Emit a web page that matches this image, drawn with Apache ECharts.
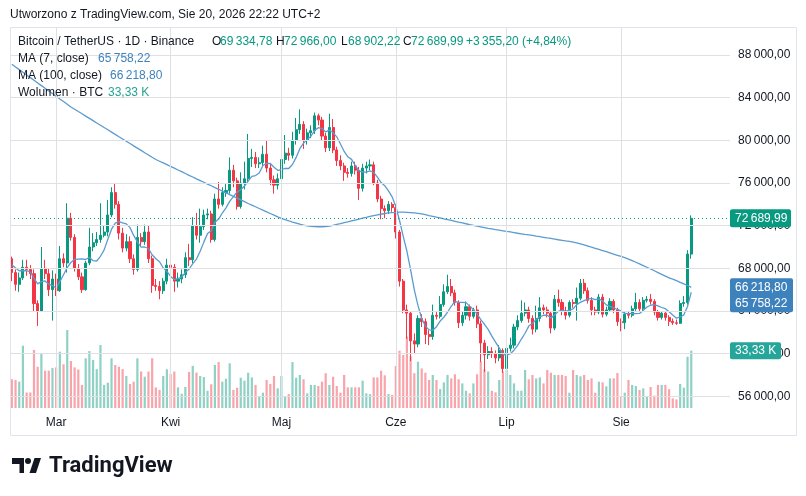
<!DOCTYPE html>
<html>
<head>
<meta charset="utf-8">
<script src="https://cdn.jsdelivr.net/npm/echarts@6/dist/echarts.min.js"></script>
<style>
  html, body { margin: 0; padding: 0; background: #fff; }
  #chart { width: 806px; height: 496px; }
</style>
</head>
<body>
<div id="chart"></div>
<script>
// BTC/USDT 1D, Binance, 17 Feb - 20 Aug 2026
const monthNames = ['Sty', 'Lut', 'Mar', 'Kwi', 'Maj', 'Cze', 'Lip', 'Sie', 'Wrz', 'Paź', 'Lis', 'Gru'];
const futureDays = 10; // empty space right of the last candle

const opens = [
  68900, 67600, 66500, 67100, 68100, 67900, 67500, 64700, 64000, 68000,
  67500, 66000, 67000, 65900, 68900, 68500, 72700, 70900, 68000, 67200,
  66000, 68500, 70000, 70400, 70700, 71100, 71400, 73000, 75100, 74000,
  71300, 69900, 70500, 68900, 67900, 70900, 70500, 71400, 68900, 66400,
  66300, 65900, 66800, 68300, 68100, 66800, 67000, 67400, 69000, 68800,
  72000, 71100, 71900, 73000, 73100, 70700, 74500, 74000, 75100, 75300,
  77200, 76200, 73800, 76000, 76400, 78300, 78400, 77800, 77900, 78700,
  77400, 76300, 75800, 76400, 78200, 78800, 78600, 80000, 81000, 81500,
  80000, 80700, 80900, 82300, 81900, 80400, 79300, 81200, 79100, 78100,
  77600, 77000, 76900, 77600, 77200, 75500, 77400, 77600, 77700, 76000,
  74500, 73600, 73400, 74000, 73700, 71400, 66800, 64100, 63800, 61200,
  60900, 63300, 63000, 61800, 61600, 63600, 63500, 64600, 65800, 66300,
  65700, 64800, 62900, 63600, 64400, 63500, 64100, 62800, 61000, 59900,
  60200, 60000, 59600, 60300, 58600, 60500, 60800, 62500, 63100, 63800,
  64100, 63300, 62300, 63300, 64300, 64100, 63800, 62400, 65100, 64800,
  64000, 63600, 64800, 64700, 65200, 66600, 65900, 65000, 64100, 63900,
  65300, 63700, 64100, 64900, 64100, 63000, 62900, 63700, 63600, 64200,
  64800, 64200, 65000, 65100, 64900, 63900, 63400, 63800, 63400, 63030,
  62900, 62850, 64702.73, 64800, 69334.78
];
const closes = [
  67600, 66500, 67100, 68100, 67900, 67500, 64700, 64000, 68000, 67500,
  66000, 67000, 65900, 68900, 68500, 72700, 70900, 68000, 67200, 66000,
  68500, 70000, 70400, 70700, 71100, 71400, 73000, 75100, 74000, 71300,
  69900, 70500, 68900, 67900, 70900, 70500, 71400, 68900, 66400, 66300,
  65900, 66800, 68300, 68100, 66800, 67000, 67400, 69000, 68800, 72000,
  71100, 71900, 73000, 73100, 70700, 74500, 74000, 75100, 75300, 77200,
  76200, 73800, 76000, 76400, 78300, 78400, 77800, 77900, 78700, 77400,
  76300, 75800, 76400, 78200, 78800, 78600, 80000, 81000, 81500, 80000,
  80700, 80900, 82300, 81900, 80400, 79300, 81200, 79100, 78100, 77600,
  77000, 76900, 77600, 77200, 75500, 77400, 77600, 77700, 76000, 74500,
  73600, 73400, 74000, 73700, 71400, 66800, 64100, 63800, 61200, 60900,
  63300, 63000, 61800, 61600, 63600, 63500, 64600, 65800, 66300, 65700,
  64800, 62900, 63600, 64400, 63500, 64100, 62800, 61000, 59900, 60200,
  60000, 59600, 60300, 58600, 60500, 60800, 62500, 63100, 63800, 64100,
  63300, 62300, 63300, 64300, 64100, 63800, 62400, 65100, 64800, 64000,
  63600, 64800, 64700, 65200, 66600, 65900, 65000, 64100, 63900, 65300,
  63700, 64100, 64900, 64100, 63000, 62900, 63700, 63600, 64200, 64800,
  64200, 65000, 65100, 64900, 63900, 63400, 63800, 63400, 63030, 62900,
  62850, 64702.73, 64800, 69334.79, 72689.99
];
const lows = [
  66800, 65900, 65800, 66900, 67300, 67000, 64000, 62600, 64000, 67000,
  65400, 63100, 65400, 65800, 68100, 67600, 70600, 67700, 66900, 65700,
  65900, 68300, 69600, 70100, 70400, 70900, 71000, 72800, 73600, 70700,
  69500, 69600, 68500, 67400, 67700, 70100, 70200, 68500, 65700, 65900,
  65100, 65600, 66500, 67600, 65800, 66200, 66600, 67100, 68200, 68500,
  70700, 70400, 71600, 72600, 70400, 70500, 73600, 73800, 74700, 75000,
  75600, 73500, 73600, 75400, 76100, 77500, 77400, 77400, 77600, 77000,
  75800, 75000, 75400, 76100, 77800, 78100, 78300, 79600, 80600, 79200,
  79600, 80200, 80600, 81400, 80000, 78900, 79000, 78800, 77600, 77200,
  76200, 76500, 76600, 76800, 74400, 75200, 76900, 77200, 75800, 74200,
  72600, 72700, 73100, 73300, 70800, 66300, 63800, 61400, 59300, 60000,
  60600, 62500, 60900, 60800, 61300, 63200, 63300, 64400, 65600, 65400,
  64500, 62400, 62600, 63200, 63100, 63300, 62400, 59200, 58300, 59500,
  59600, 59100, 59300, 58200, 58400, 60200, 60500, 62200, 62900, 63500,
  62900, 61800, 62000, 63000, 63700, 63400, 61900, 62200, 64400, 63600,
  63200, 63400, 64300, 63100, 65000, 65600, 64700, 63600, 63600, 63700,
  63400, 63500, 63900, 63800, 62600, 62100, 62300, 63300, 63400, 64000,
  63900, 64000, 64800, 64600, 63600, 63100, 63200, 63100, 62600, 62700,
  62700, 62800, 64400, 64600, 68902.22
];
const highs = [
  69100, 67900, 67600, 68800, 68800, 68300, 67900, 65000, 70000, 68800,
  68000, 67800, 67500, 70100, 69400, 74100, 73200, 71200, 68400, 67600,
  68700, 71800, 71300, 71400, 74100, 72000, 74400, 75600, 76000, 74300,
  71800, 71200, 71000, 69300, 72100, 71300, 72100, 72000, 69200, 67000,
  66800, 67100, 68900, 69400, 68400, 67600, 67900, 69500, 70300, 72800,
  73200, 73600, 73500, 73600, 73400, 75000, 76100, 75600, 75900, 78400,
  77700, 76500, 77000, 78000, 80600, 79200, 78900, 78400, 79500, 80000,
  77800, 76700, 76900, 78600, 80500, 79300, 80800, 82100, 82900, 81800,
  81100, 81400, 82600, 82500, 82200, 80700, 82500, 82000, 79400, 78600,
  77900, 77400, 78000, 78000, 77500, 77800, 78000, 78200, 78000, 76300,
  74800, 73900, 74300, 74200, 74000, 71600, 67000, 64600, 64000, 61900,
  63600, 63700, 63300, 62200, 64600, 63900, 65400, 66500, 67400, 67000,
  66000, 65000, 64000, 64900, 64600, 64300, 64500, 63100, 61300, 60700,
  60600, 60300, 60800, 60500, 61000, 61500, 62800, 63600, 65000, 64800,
  64400, 63600, 64500, 65300, 64600, 64400, 64000, 65500, 66000, 65100,
  64400, 65000, 65100, 66200, 67000, 67000, 66200, 65300, 64400, 65600,
  65600, 64400, 65200, 65100, 64300, 63300, 63900, 64000, 64500, 65700,
  65100, 65300, 65400, 65600, 65100, 64100, 64000, 63900, 63600, 63300,
  63200, 65000, 65400, 69700, 72966.00
];
// volume, thousands of BTC
const volumes = [
  16.7, 16.3, 15.3, 36.2, 9.0, 9.0, 33.7, 24.0, 31.4, 21.7,
  21.7, 23.3, 23.6, 32.7, 25.4, 45.3, 27.3, 23.6, 22.4, 13.4,
  28.9, 33.1, 27.9, 22.6, 36.6, 13.4, 14.7, 28.9, 25.0, 24.0,
  22.6, 18.6, 14.0, 15.3, 28.9, 21.2, 18.2, 21.2, 28.9, 12.0,
  10.5, 18.6, 22.5, 19.8, 21.2, 12.0, 8.3, 12.2, 21.0, 24.5,
  20.6, 18.6, 18.0, 10.0, 13.8, 25.0, 26.7, 15.3, 17.0, 26.0,
  10.5, 11.8, 17.6, 15.9, 20.5, 17.8, 13.4, 6.6, 8.9, 16.3,
  14.0, 18.6, 11.4, 18.6, 7.0, 8.1, 26.7, 17.6, 19.2, 16.7,
  8.5, 13.4, 13.4, 12.8, 15.3, 20.2, 13.4, 18.2, 12.8, 8.9,
  19.2, 12.0, 12.0, 12.0, 12.0, 15.9, 8.5, 8.1, 17.8, 17.8,
  21.7, 19.0, 8.1, 7.6, 24.4, 33.3, 30.8, 41.5, 30.0, 20.2,
  26.9, 23.0, 20.5, 16.3, 19.2, 16.3, 11.0, 14.9, 19.2, 17.2,
  19.6, 16.7, 14.3, 10.0, 8.5, 14.3, 19.6, 26.9, 22.5, 21.2,
  10.0, 9.1, 16.3, 21.2, 22.1, 19.2, 14.3, 10.0, 10.0, 22.1,
  16.7, 19.2, 17.2, 17.8, 14.3, 22.1, 20.5, 19.2, 19.2, 19.2,
  18.6, 8.9, 22.1, 19.2, 18.4, 19.2, 16.3, 17.2, 8.9, 15.3,
  14.9, 12.6, 17.2, 17.2, 20.3, 6.6, 8.9, 16.3, 13.4, 12.8,
  10.5, 11.4, 6.6, 12.2, 7.2, 13.4, 13.4, 13.4, 10.9, 5.6,
  5.0, 14.0, 11.8, 29.8, 33.33
];
// MA(100) as drawn (its window reaches before the visible range)
const ma100 = [
  87130, 86880, 86630, 86380, 86130, 85880, 85630, 85380, 85130, 84880,
  84630, 84390, 84140, 83880, 83640, 83390, 83130, 82920, 82700, 82490,
  82270, 82060, 81850, 81630, 81420, 81200, 80990, 80770, 80560, 80340,
  80130, 79910, 79700, 79480, 79270, 79060, 78840, 78630, 78410, 78200,
  78040, 77880, 77720, 77550, 77390, 77220, 77060, 76890, 76720, 76560,
  76390, 76230, 76070, 75900, 75740, 75570, 75410, 75240, 75070, 74910,
  74740, 74580, 74420, 74250, 74080, 73930, 73770, 73610, 73450, 73300,
  73140, 72980, 72820, 72680, 72570, 72460, 72340, 72240, 72140, 72060,
  71990, 71940, 71910, 71900, 71900, 71920, 71950, 72030, 72110, 72190,
  72280, 72350, 72440, 72530, 72620, 72700, 72780, 72870, 72940, 73010,
  73070, 73140, 73190, 73230, 73250, 73270, 73270, 73250, 73230, 73200,
  73160, 73110, 73040, 72950, 72880, 72800, 72730, 72640, 72570, 72490,
  72410, 72330, 72260, 72180, 72100, 72030, 71950, 71880, 71810, 71740,
  71690, 71630, 71580, 71520, 71460, 71410, 71350, 71290, 71240, 71180,
  71130, 71080, 71020, 70970, 70910, 70850, 70800, 70740, 70680, 70630,
  70570, 70520, 70460, 70390, 70290, 70190, 70090, 69980, 69880, 69780,
  69670, 69560, 69450, 69330, 69220, 69110, 69000, 68870, 68720, 68570,
  68410, 68260, 68100, 67940, 67770, 67600, 67430, 67270, 67100, 66990,
  66840, 66690, 66540, 66390, 66218.80
];
// six closes before 17 Feb, only for the start of MA(7)
const earlierCloses = [68600, 68900, 68100, 67800, 68400, 68900];

const UP = '#089981';
const DOWN = '#f23645';
const MA_LINE = '#5b9bd0';
const MA_TEXT = '#3d82bd';
const GRID = '#dfe0e4';
const TEXT = '#131722';
const FONT = '"Liberation Sans", Arial, sans-serif';

// date categories
const dates = [];
const t0 = Date.UTC(2026, 1, 17);
for (let i = 0; i < closes.length + futureDays; i++) {
  dates.push(new Date(t0 + i * 86400000).toISOString().slice(0, 10));
}

const allCloses = earlierCloses.concat(closes);
const ma7 = closes.map((c, i) => {
  let s = 0;
  for (let k = i; k < i + 7; k++) s += allCloses[k];
  return +(s / 7).toFixed(2);
});

function fmt(v, dec) {
  const p = Math.abs(v).toFixed(dec).split('.');
  const int = p[0].replace(/\B(?=(\d{3})+(?!\d))/g, '\u202f');
  return (v < 0 ? '-' : '') + (dec ? int + ',' + p[1] : int);
}

const candles = opens.map((o, i) => [o, closes[i], lows[i], highs[i]]);
const volData = volumes.map((v, i) => ({
  value: v,
  itemStyle: { color: closes[i] >= opens[i] ? 'rgba(8,153,129,0.45)' : 'rgba(242,54,69,0.45)' }
}));

const monthStarts = dates.filter((d, i) => i < closes.length && d.slice(8) === '01');
const priceLines = [56000, 60000, 64000, 68000, 72000, 76000, 80000, 84000, 88000];

const gridLines = priceLines.map(v => ({ yAxis: v }))
  .concat(monthStarts.map(d => [{ coord: [d, 90625] }, { coord: [d, 54880] }]));

const last = closes.length - 1;
const lastClose = closes[last];
const change = lastClose - closes[last - 1];
const changePct = change / closes[last - 1] * 100;

const option = {
  animation: false,
  backgroundColor: '#ffffff',
  grid: [
    { left: 10, right: 76, top: 12.33, bottom: 57 },
    { left: 10, right: 76, top: 328, bottom: 88 }
  ],
  xAxis: [
    {
      type: 'category', gridIndex: 0, data: dates, boundaryGap: true,
      axisLine: { show: false }, axisTick: { show: false }, axisLabel: { show: false }, splitLine: { show: false }
    },
    {
      type: 'category', gridIndex: 1, data: dates, boundaryGap: true,
      axisLine: { show: false }, axisTick: { show: false }, splitLine: { show: false },
      axisLabel: {
        interval: (i, v) => v.slice(8) === '01',
        formatter: v => monthNames[+v.slice(5, 7) - 1],
        color: TEXT, fontSize: 12, fontFamily: FONT, margin: 9
      }
    }
  ],
  yAxis: [
    {
      type: 'value', gridIndex: 0, position: 'right', min: 52000, max: 92000, interval: 4000,
      axisLine: { show: false }, axisTick: { show: false }, splitLine: { show: false },
      axisLabel: {
        color: TEXT, fontSize: 12, fontFamily: FONT, margin: 8,
        formatter: v => (v < 56000 || v > 88000) ? '' : fmt(v, 2)
      }
    },
    { type: 'value', gridIndex: 1, min: 0, max: 46.5, show: false }
  ],
  series: [
    {
      name: 'grid', type: 'line', xAxisIndex: 0, yAxisIndex: 0, data: [], z: 0, silent: true,
      markLine: {
        silent: true, symbol: ['none', 'none'], label: { show: false }, animation: false,
        lineStyle: { color: GRID, width: 1, type: 'solid' },
        emphasis: { disabled: true },
        data: gridLines
      }
    },
    {
      name: 'Wolumen', type: 'bar', xAxisIndex: 1, yAxisIndex: 1, data: volData,
      barWidth: '60%', z: 1, silent: true
    },
    {
      name: 'BTCUSDT', type: 'candlestick', xAxisIndex: 0, yAxisIndex: 0, data: candles,
      barWidth: '70%', z: 3,
      itemStyle: { color: UP, color0: DOWN, borderColor: UP, borderColor0: DOWN, borderWidth: 1 },
      markLine: {
        silent: true, symbol: ['none', 'none'], label: { show: false }, animation: false,
        lineStyle: { color: UP, width: 1, type: [1, 3] },
        emphasis: { disabled: true },
        data: [{ yAxis: lastClose }]
      }
    },
    {
      name: 'MA 100', type: 'line', xAxisIndex: 0, yAxisIndex: 0, data: ma100,
      symbol: 'none', z: 4, lineStyle: { color: MA_LINE, width: 1.3 }
    },
    {
      name: 'MA 7', type: 'line', xAxisIndex: 0, yAxisIndex: 0, data: ma7,
      symbol: 'none', z: 4, lineStyle: { color: MA_LINE, width: 1.3 }
    }
  ]
};

const chart = echarts.init(document.getElementById('chart'), null, { renderer: 'canvas' });
chart.setOption(option);

function txt(x, y, text, fill, size, weight) {
  return {
    type: 'text', x: x, y: y, z: 100,
    style: {
      text: text, fill: fill || TEXT, fontSize: size || 12, fontFamily: FONT,
      fontWeight: weight || 'normal', verticalAlign: 'middle'
    }
  };
}

const yPrice = chart.convertToPixel({ yAxisIndex: 0 }, lastClose);
const yMa100 = chart.convertToPixel({ yAxisIndex: 0 }, ma100[last]);
const yVol = chart.convertToPixel({ yAxisIndex: 1 }, volumes[last]);

const graphics = [
  // outer frame
  { type: 'rect', z: 90, shape: { x: 10.5, y: 27.5, width: 786, height: 408 },
    style: { fill: null, stroke: '#e0e3eb', lineWidth: 1 } },
  txt(10, 15, 'Utworzono z TradingView.com, Sie 20, 2026 22:22 UTC+2'),
  // legend
  txt(18, 42, 'Bitcoin / TetherUS · 1D · Binance'),
  txt(212, 42, 'O'), txt(220, 42, fmt(opens[last], 2), UP),
  txt(276, 42, 'H'), txt(284, 42, fmt(highs[last], 2), UP),
  txt(341, 42, 'L'), txt(348, 42, fmt(lows[last], 2), UP),
  txt(403, 42, 'C'), txt(411, 42, fmt(lastClose, 2), UP),
  txt(466, 42, '+' + fmt(change, 2) + ' (+' + fmt(changePct, 2) + '%)', UP),
  txt(18, 59, 'MA (7, close)'), txt(98, 59, fmt(ma7[last], 2), MA_TEXT),
  txt(18, 76, 'MA (100, close)'), txt(110, 76, fmt(ma100[last], 2), MA_TEXT),
  txt(18, 93, 'Wolumen · BTC'), txt(108, 93, fmt(volumes[last], 2) + ' K', '#22a391'),
  // price badge
  { type: 'rect', z: 100, shape: { x: 730, y: yPrice - 9, width: 61, height: 18, r: 2 }, style: { fill: UP } },
  txt(735, yPrice, fmt(lastClose, 2), '#ffffff'),
  // moving average badges
  { type: 'rect', z: 100, shape: { x: 730, y: yMa100 - 9, width: 63, height: 34, r: 2 }, style: { fill: MA_TEXT } },
  txt(735, yMa100, fmt(ma100[last], 2), '#ffffff'),
  txt(735, yMa100 + 16, fmt(ma7[last], 2), '#ffffff'),
  // volume badge
  { type: 'rect', z: 100, shape: { x: 730, y: yVol - 8.5, width: 51, height: 17, r: 2 }, style: { fill: '#26a69a' } },
  txt(735, yVol, fmt(volumes[last], 2) + ' K', '#ffffff'),
  // TradingView logo
  { type: 'polygon', z: 100, shape: { points: [[12, 458], [24, 458], [24, 473], [19.5, 473], [19.5, 464], [12, 464]] }, style: { fill: TEXT } },
  { type: 'circle', z: 100, shape: { cx: 28, cy: 461, r: 3 }, style: { fill: TEXT } },
  { type: 'polygon', z: 100, shape: { points: [[34.5, 458], [41, 458], [36, 473], [29.5, 473]] }, style: { fill: TEXT } },
  { type: 'text', x: 49, y: 466, z: 100,
    style: { text: 'TradingView', fill: TEXT, fontSize: 22, fontFamily: 'Roboto, "Liberation Sans", sans-serif',
      fontWeight: 'bold', verticalAlign: 'middle' } }
];

chart.setOption({ graphic: graphics });
</script>
</body>
</html>
